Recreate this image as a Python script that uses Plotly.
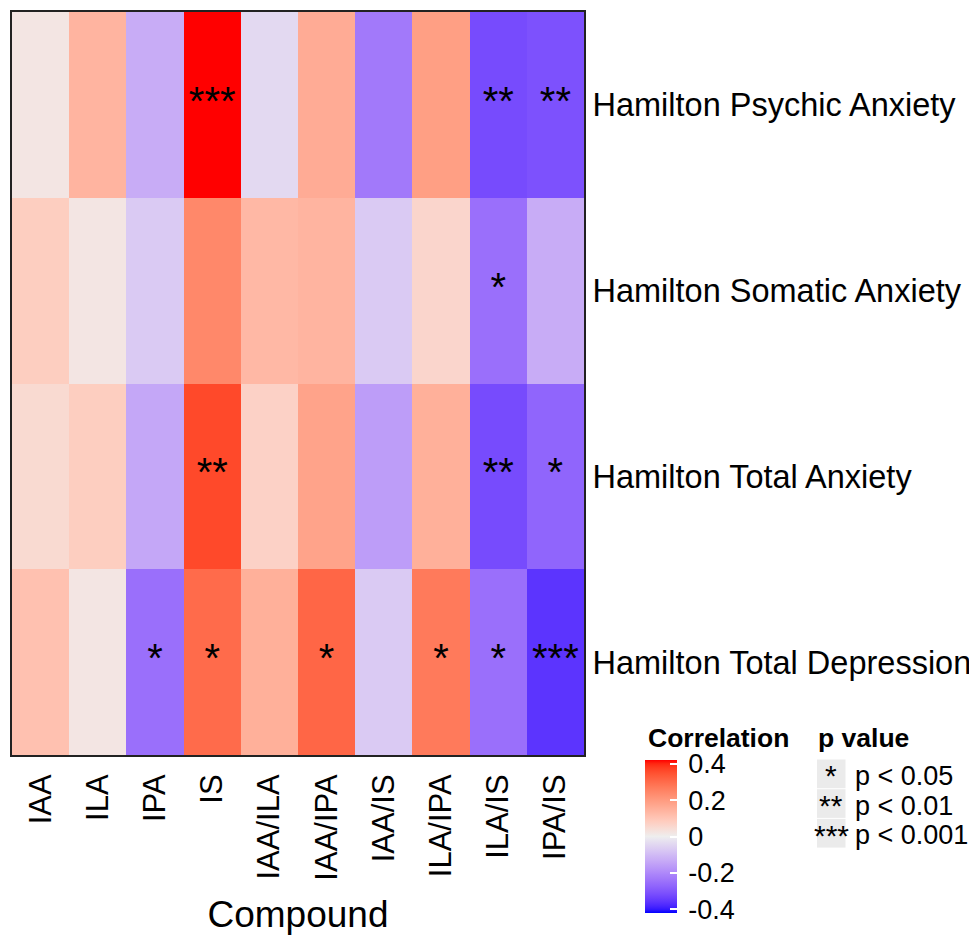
import numpy as np
import plotly.graph_objects as go

compounds = ["IAA", "ILA", "IPA", "IS", "IAA/ILA", "IAA/IPA", "IAA/IS", "ILA/IPA", "ILA/IS", "IPA/IS"]
scales = ["Hamilton Psychic Anxiety", "Hamilton Somatic Anxiety",
          "Hamilton Total Anxiety", "Hamilton Total Depression"]

psychic = [0.02, 0.14, -0.13, 0.42, -0.04, 0.16, -0.23, 0.19, -0.32, -0.31]
somatic = [0.08, 0.02, -0.07, 0.24, 0.13, 0.14, -0.07, 0.06, -0.25, -0.13]
total_anx = [0.05, 0.08, -0.14, 0.36, 0.07, 0.18, -0.16, 0.15, -0.32, -0.27]
total_dep = [0.11, 0.02, -0.25, 0.30, 0.15, 0.31, -0.07, 0.27, -0.25, -0.36]

sig_psychic = ["", "", "", "***", "", "", "", "", "**", "**"]
sig_somatic = ["", "", "", "", "", "", "", "", "*", ""]
sig_total_anx = ["", "", "", "**", "", "", "", "", "**", "*"]
sig_total_dep = ["", "", "*", "*", "", "*", "", "*", "*", "***"]

cbar_ticks = [0.4, 0.2, 0, -0.2, -0.4]
cbar_ticktext = ["0.4", "0.2", "0", "-0.2", "-0.4"]
pkey_symbols = ["*", "**", "***"]
pkey_labels = ["p < 0.05", "p < 0.01", "p < 0.001"]

# ---------- Lab colour interpolation (like ggplot's gradient2) ----------
def hex2rgb(h):
    h = h.lstrip("#")
    return np.array([int(h[i:i + 2], 16) for i in (0, 2, 4)], float) / 255.0

M = np.array([[0.4124564, 0.3575761, 0.1804375],
              [0.2126729, 0.7151522, 0.0721750],
              [0.0193339, 0.1191920, 0.9503041]])
Minv = np.linalg.inv(M)
WHITE = np.array([0.95047, 1.0, 1.08883])

def rgb2lab(c):
    lin = np.where(c <= 0.04045, c / 12.92, ((c + 0.055) / 1.055) ** 2.4)
    xyz = M @ lin / WHITE
    f = np.where(xyz > (6 / 29) ** 3, np.cbrt(xyz), xyz / (3 * (6 / 29) ** 2) + 4 / 29)
    return np.array([116 * f[1] - 16, 500 * (f[0] - f[1]), 200 * (f[1] - f[2])])

def lab2rgb(lab):
    L, a, b = lab
    fy = (L + 16) / 116
    fx = fy + a / 500
    fz = fy - b / 200
    f = np.array([fx, fy, fz])
    xyz = np.where(f > 6 / 29, f ** 3, 3 * (6 / 29) ** 2 * (f - 4 / 29)) * WHITE
    lin = Minv @ xyz
    lin = np.clip(lin, 0, 1)
    c = np.where(lin <= 0.0031308, 12.92 * lin, 1.055 * lin ** (1 / 2.4) - 0.055)
    return np.clip(c, 0, 1)

low, mid, high = rgb2lab(hex2rgb("#0000FF")), rgb2lab(hex2rgb("#EEEEEE")), rgb2lab(hex2rgb("#FF0000"))
colorscale = []
n = 41
for i in range(n):
    t = i / (n - 1)
    if t <= 0.5:
        lab = low + (mid - low) * (t / 0.5)
    else:
        lab = mid + (high - mid) * ((t - 0.5) / 0.5)
    r, g, b = (lab2rgb(lab) * 255).round().astype(int)
    colorscale.append([t, f"rgb({r},{g},{b})"])

z = [psychic, somatic, total_anx, total_dep]
sig = [sig_psychic, sig_somatic, sig_total_anx, sig_total_dep]

# ---------- layout helpers (screen pixel -> paper) ----------
OFF = 8  # page body margin offset
W, H = 977, 935
ML, MR, MT, MB = 12, 393, 12, 180
PW, PH = W - ML - MR, H - MT - MB

def px(xp):
    return (xp - ML) / PW

def py(yp):
    return (H - MB - yp) / PH

FONT = "Liberation Sans, Arial, sans-serif"
ZMAX = 0.42
TS = "\u2009"

fig = go.Figure()
fig.add_trace(go.Heatmap(
    z=z, x=compounds, y=scales,
    colorscale=colorscale, zmin=-ZMAX, zmax=ZMAX,
    hoverongaps=False,
    colorbar=dict(
        x=px(645), xanchor="left", xref="paper",
        y=py(836.5), yanchor="middle", yref="paper",
        thickness=32, thicknessmode="pixels",
        len=153, lenmode="pixels",
        outlinewidth=0,
        tickvals=cbar_ticks, ticktext=[TS + t for t in cbar_ticktext],
        ticks="inside", tickcolor="white", ticklen=7, tickwidth=1.5,
        tickfont=dict(family=FONT, size=27, color="black"),
        xpad=0, ypad=0,
    ),
))

xs, ys, ts = [], [], []
for r, row in enumerate(sig):
    for c, s in enumerate(row):
        if s:
            xs.append(compounds[c]); ys.append(scales[r]); ts.append(s)
fig.add_trace(go.Scatter(
    x=xs, y=ys, text=ts, mode="text",
    textfont=dict(family=FONT, size=40, color="black"),
    textposition="middle center", showlegend=False, hoverinfo="skip",
))

annotations = [
    dict(text="<b>Correlation</b>", x=px(646), y=py(738), xref="paper", yref="paper",
         xanchor="left", yanchor="middle", showarrow=False,
         font=dict(family=FONT, size=26.5, color="black")),
    dict(text="<b>p value</b>", x=px(816), y=py(738), xref="paper", yref="paper",
         xanchor="left", yanchor="middle", showarrow=False,
         font=dict(family=FONT, size=26.5, color="black")),
]
shapes = []
key_top, key_h = 759, 29.7
for i, (sym, lab) in enumerate(zip(pkey_symbols, pkey_labels)):
    y0 = key_top + i * key_h
    y1 = y0 + key_h
    shapes.append(dict(type="rect", xref="paper", yref="paper",
                       x0=px(817), x1=px(845.5), y0=py(y0 + 0.5), y1=py(y1 - 0.5),
                       fillcolor="#EBEBEB", line=dict(width=0), layer="below"))
    annotations.append(dict(text=sym, x=px(831), y=py((y0 + y1) / 2 + 2), xref="paper", yref="paper",
                            xanchor="center", yanchor="middle", showarrow=False,
                            font=dict(family=FONT, size=30, color="black")))
    annotations.append(dict(text=lab, x=px(853), y=py((y0 + y1) / 2 + 2), xref="paper", yref="paper",
                            xanchor="left", yanchor="middle", showarrow=False,
                            font=dict(family=FONT, size=27, color="black")))

fig.update_layout(
    width=W - OFF, height=H - OFF,
    margin=dict(l=ML - OFF, r=MR, t=MT - OFF, b=MB),
    paper_bgcolor="white", plot_bgcolor="white",
    font=dict(family=FONT, color="black"),
    showlegend=False,
    annotations=annotations, shapes=shapes,
    xaxis=dict(
        tickangle=-90, tickfont=dict(family=FONT, size=31, color="black"),
        showgrid=False, zeroline=False, ticks="",
        showline=True, linecolor="#222222", linewidth=2, mirror=True,
        title=dict(text="Compound", font=dict(family=FONT, size=37, color="black"), standoff=26),
        automargin=False, ticklabelstandoff=5,
    ),
    yaxis=dict(
        side="right", autorange="reversed",
        tickfont=dict(family=FONT, size=32.5, color="black"),
        showgrid=False, zeroline=False, ticks="",
        showline=True, linecolor="#222222", linewidth=2, mirror=True,
        automargin=False, ticklabelstandoff=0,
    ),
)

fig.write_html("out.html")
